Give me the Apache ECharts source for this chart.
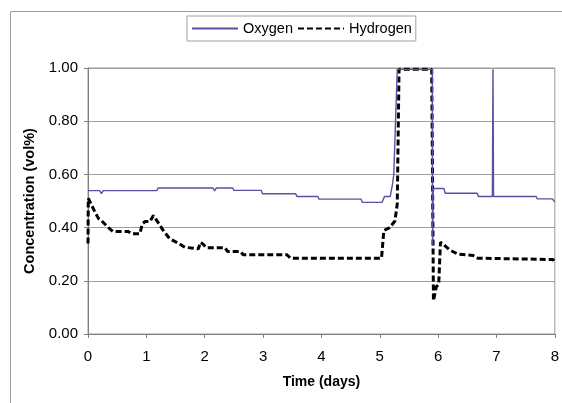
<!DOCTYPE html>
<html>
<head>
<meta charset="utf-8">
<script src="https://cdn.jsdelivr.net/npm/echarts@6/dist/echarts.min.js"></script>
<style>
  html, body { margin: 0; padding: 0; background: #fff; }
  #chart { width: 562px; height: 403px; }
</style>
</head>
<body>
<div id="chart"></div>
<script>
// time in days, concentration in vol%
var oxygenT = [0, 0.2, 0.23, 0.26, 1.18, 1.2, 2.14, 2.17, 2.2, 2.48, 2.5, 2.97, 2.99, 3.56, 3.58, 3.94, 3.96,
  4.68, 4.7, 5.04, 5.08, 5.18, 5.22, 5.24, 5.3, 5.9, 5.905, 5.915, 6.1, 6.12, 6.67, 6.69, 6.93, 6.94, 6.95,
  7.68, 7.7, 7.96, 8];
var oxygenC = [0.539, 0.539, 0.528, 0.539, 0.539, 0.549, 0.549, 0.538, 0.549, 0.549, 0.540, 0.540, 0.527, 0.527, 0.517, 0.517, 0.507,
  0.507, 0.495, 0.495, 0.517, 0.517, 0.565, 0.6, 0.995, 0.995, 0.333, 0.547, 0.547, 0.529, 0.529, 0.517, 0.517, 0.995, 0.517,
  0.517, 0.508, 0.508, 0.496];

var hydrogenT = [0, 0.005, 0.05, 0.12, 0.18, 0.23, 0.35, 0.43, 0.69, 0.75, 0.89, 0.93, 0.98, 1.06, 1.12, 1.18, 1.29, 1.4,
  1.55, 1.66, 1.89, 1.93, 1.97, 2.03, 2.35, 2.39, 2.61, 2.66, 3.41, 3.47, 5.03, 5.07, 5.17, 5.26, 5.3, 5.33,
  5.89, 5.92, 5.97, 6.01, 6.04, 6.11, 6.2, 6.34, 6.6, 6.68, 7.97, 8];
var hydrogenC = [0.34, 0.51, 0.49, 0.458, 0.434, 0.426, 0.4, 0.385, 0.385, 0.377, 0.377, 0.414, 0.423, 0.423, 0.445, 0.426, 0.389, 0.358,
  0.341, 0.326, 0.32, 0.345, 0.338, 0.324, 0.324, 0.31, 0.31, 0.298, 0.298, 0.285, 0.285, 0.389, 0.4, 0.425, 0.49, 0.995,
  0.995, 0.125, 0.178, 0.186, 0.345, 0.333, 0.316, 0.3, 0.295, 0.285, 0.28, 0.27];

var xTicks = [0, 1, 2, 3, 4, 5, 6, 7, 8];
var yTicks = ["0.00", "0.20", "0.40", "0.60", "0.80", "1.00"];

function pairs(t, c) {
  return t.map(function (v, i) { return [v, c[i]]; });
}

var chart = echarts.init(document.getElementById("chart"));
var font = "'Liberation Sans', Arial, sans-serif";

chart.setOption({
  animation: false,
  textStyle: { fontFamily: font },
  graphic: [{
    type: "rect",
    z: -10,
    shape: { x: 10.5, y: 11.5, width: 700, height: 500 },
    style: { fill: "#fff", stroke: "#9a9a9a", lineWidth: 1 }
  }],
  legend: {
    left: 187,
    top: 16,
    padding: [5, 4, 5, 4],
    itemGap: 4,
    itemWidth: 46,
    itemHeight: 14,
    borderColor: "#a0a0a0",
    borderWidth: 1,
    backgroundColor: "#fff",
    itemStyle: { opacity: 0 },
    textStyle: { fontSize: 14.5, color: "#000", fontFamily: font },
    data: ["Oxygen", "Hydrogen"]
  },
  grid: {
    left: 88, top: 68, width: 467, height: 266,
    show: true, borderColor: "#9a9a9a", borderWidth: 1
  },
  xAxis: {
    type: "value",
    min: 0, max: 8, interval: 1,
    name: "Time (days)",
    nameLocation: "middle",
    nameGap: 41,
    nameTextStyle: { fontSize: 14, fontWeight: "bold", color: "#000", fontFamily: font },
    axisLine: { lineStyle: { color: "#808080", width: 1 } },
    axisTick: { show: true, length: 4, lineStyle: { color: "#808080" } },
    axisLabel: {
      margin: 15, fontSize: 15, color: "#000",
      formatter: function (v) { return xTicks.indexOf(v) >= 0 ? String(v) : ""; }
    },
    splitLine: { show: false }
  },
  yAxis: {
    type: "value",
    min: 0, max: 1, interval: 0.2,
    name: "Concentration (vol%)",
    nameLocation: "middle",
    nameGap: 47,
    nameTextStyle: { fontSize: 14.5, fontWeight: "bold", color: "#000", fontFamily: font },
    axisLine: { show: true, lineStyle: { color: "#808080", width: 1 } },
    axisTick: { show: true, length: 4, lineStyle: { color: "#808080" } },
    axisLabel: {
      margin: 10, fontSize: 15, color: "#000",
      formatter: function (v) { return yTicks[Math.round(v / 0.2)]; }
    },
    splitLine: { show: true, lineStyle: { color: "#a0a0a0", width: 1 } }
  },
  series: [
    {
      name: "Oxygen",
      type: "line",
      symbol: "none",
      clip: true,
      data: pairs(oxygenT, oxygenC),
      lineStyle: { color: "#5a4fa3", width: 1.4 },
      itemStyle: { color: "#5a4fa3" },
      z: 3
    },
    {
      name: "Hydrogen",
      type: "line",
      symbol: "none",
      clip: true,
      data: pairs(hydrogenT, hydrogenC),
      lineStyle: { color: "#000", width: 3, type: [6, 3] },
      itemStyle: { color: "#000" },
      z: 2
    }
  ]
});
</script>
</body>
</html>
